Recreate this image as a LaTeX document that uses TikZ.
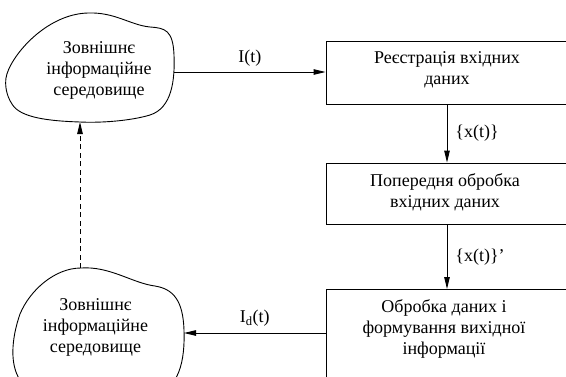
\documentclass[tikz,border=0pt]{standalone}
\usepackage{fontspec}
\setmainfont{Liberation Serif}
\usetikzlibrary{arrows.meta}
\tikzset{
  line/.style={draw=black, line width=0.9bp},
  arr/.style={line, -{Triangle[length=12bp,width=5.5bp]}},
  boxnode/.style={line, rectangle, minimum width=242bp, inner sep=0pt},
  txt/.style={align=center, inner sep=0pt, font=\fontsize{18bp}{21bp}\selectfont},
  lbl/.style={inner sep=0pt, font=\fontsize{18bp}{21bp}\selectfont},
}
\begin{document}
\begin{tikzpicture}[x=1bp,y=-1bp]
\clip (0,0) rectangle (566,376);
\useasboundingbox (0,0) rectangle (566,376);
% cloud 1
\draw[line] (6,78) .. controls (9,58) and (45,14) .. (88,13)
  .. controls (115,12) and (130,25) .. (150,27)
  .. controls (165,28) and (173,30) .. (174,55)
  .. controls (175,80) and (172,108) .. (150,115)
  .. controls (130,121) and (100,123) .. (80,122)
  .. controls (50,121) and (20,118) .. (12,104)
  .. controls (6,95) and (5,85) .. (6,78) -- cycle;
\node[txt] (c1) at (99,70) {Зовнішнє\\інформаційне\\середовище};
\coordinate (c1e) at (174,72);
\coordinate (c1s) at (80,122);
% cloud 2
\draw[line] (81,268) .. controls (110,266) and (132,283) .. (155,286)
  .. controls (173,289) and (183,300) .. (184,330)
  .. controls (185,360) and (180,390) .. (150,398)
  .. controls (110,402) and (40,400) .. (20,380)
  .. controls (10,365) and (11,340) .. (20,314)
  .. controls (30,290) and (55,268) .. (81,268) -- cycle;
\node[txt] (c2) at (95.5,327) {Зовнішнє\\інформаційне\\середовище};
\coordinate (c2e) at (184,333);
\coordinate (c2n) at (80,268);
% boxes
\node[boxnode, minimum height=63bp] (b1) at (447,72.5) {};
\node[txt] (b1t) at (447,69.5) {Реєстрація вхідних\\даних};
\node[boxnode, minimum height=61bp] (b2) at (447,193.5) {};
\node[txt] (b2t) at (445,192.5) {Попередня обробка\\вхідних даних};
\node[boxnode, minimum height=110bp, anchor=north] (b3) at (447,289) {};
\node[txt] (b3t) at (444,329) {Обробка даних і\\формування вихідної\\інформації};
% connectors
\draw[arr] (c1e) -- (c1e -| b1.west) node[lbl, midway, above=5bp] (l1) {I(t)};
\draw[arr] (b1.south) -- (b2.north) node[lbl, midway, right=8bp] (l2) {\{x(t)\}};
\draw[arr] (b2.south) -- (b3.north) node[lbl, midway, right=8bp] (l3) {\{x(t)\}'};
\draw[arr] (c2e -| b3.west) -- (c2e) node[lbl, midway, above=6bp] (l4) {I\textsubscript{d}(t)};
\draw[arr, dash pattern=on 5bp off 3.5bp] (c2n) -- (c1s);
\end{tikzpicture}
\end{document}
